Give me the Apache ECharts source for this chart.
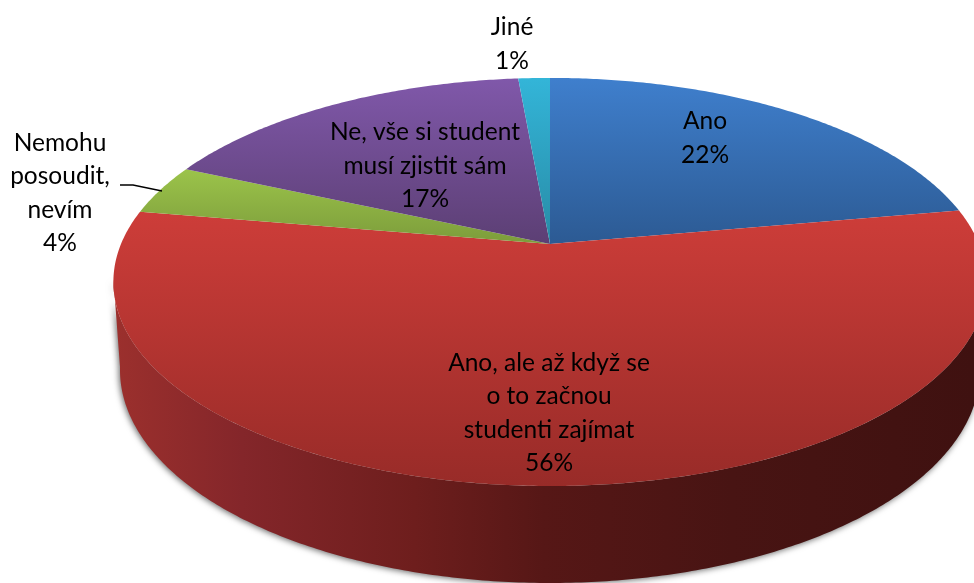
<!DOCTYPE html>
<html><head><meta charset="utf-8">
<style>html,body{margin:0;padding:0;background:#fff}#c{width:974px;height:583px}</style>
<script src="https://cdn.jsdelivr.net/npm/echarts@6/dist/echarts.min.js"></script>
</head><body><div id="c"></div>
<script>
// ---- data ----
const categories = ['Ano', 'Ano, ale až když se\no to začnou\nstudenti zajímat', 'Nemohu\nposoudit,\nnevím', 'Ne, vše si student\nmusí zjistit sám', 'Jiné'];
const values = [22.2, 55.5, 4.0, 16.9, 1.4];
const percentLabels = ['22%', '56%', '4%', '17%', '1%'];

// ---- presentation ----
const topColors = [['#3f7fcd', '#2c5a93'], ['#cd3d39', '#982b28'], ['#9bc34a', '#7c9c3b'], ['#8058aa', '#5c3f74'], ['#33b5d8', '#288ba6']];
const gradY = [[78, 244], [212, 486], [170, 244], [78, 244], [78, 244]];
const labelCentres = [[705, 138], [549, 413], [60, 193], [425, 166], [512, 44]];
const leader = [[120, 185], [133, 185], [162, 191]];
const disc = { x0: 550, y0: 244, A: 429, B: 197, k: 0.186 };
const lower = { x0: 550, A: 422.5, cy: 370, ry: 213, k: 0.186 };
const FONT = '24.5px Lato, "Open Sans", sans-serif';

function project(p, theta) {
  const w = 1 + p.k * Math.cos(theta);
  return [p.x0 + p.A * Math.sin(theta) / w, p.y0 - p.B * Math.cos(theta) / w];
}
lower.B = lower.ry * (1 - lower.k * lower.k);
lower.y0 = lower.cy - lower.B * lower.k / (1 - lower.k * lower.k);

const total = values.reduce((a, b) => a + b, 0);
function vgrad(i) {
  return { type: 'linear', global: true, x: 0, y: gradY[i][0], x2: 0, y2: gradY[i][1],
    colorStops: [{ offset: 0, color: topColors[i][0] }, { offset: 1, color: topColors[i][1] }] };
}
function rim(p, a, b) {
  const n = Math.max(4, Math.ceil(Math.abs(b - a) / 0.01)), pts = [];
  for (let j = 0; j <= n; j++) pts.push(project(p, a + (b - a) * j / n));
  return pts;
}
const sideFill = { type: 'linear', global: true, x: 113, y: 0, x2: 974, y2: 0, colorStops: [
  { offset: 0, color: '#9c302d' }, { offset: 0.15, color: '#84262a' }, { offset: 0.35, color: '#6e1e1d' },
  { offset: 0.5, color: '#561716' }, { offset: 0.72, color: '#481413' }, { offset: 1, color: '#3f1110' }] };

function renderItem(params, api) {
  const i = params.dataIndex;
  let before = 0;
  for (let j = 0; j < i; j++) before += values[j];
  const a = before / total * Math.PI * 2;
  const b = (before + api.value(0)) / total * Math.PI * 2;
  const children = [];
  if (i === 1) {
    // the outer wall: the only slice whose side faces the viewer
    const s = 100 * Math.PI / 180, e = 260 * Math.PI / 180;
    children.push({ type: 'polygon', shape: { points: rim(lower, s, e).concat(rim(disc, e, s)) },
      style: { fill: sideFill, shadowBlur: 6, shadowColor: 'rgba(0,0,0,0.6)', shadowOffsetY: 1, shadowOffsetX: -1 } });
  }
  children.push({ type: 'polygon', shape: { points: [[disc.x0, disc.y0]].concat(rim(disc, a, b)) }, style: { fill: vgrad(i) } });
  if (i === 2) {
    children.push({ type: 'polyline', shape: { points: leader }, style: { stroke: '#000', lineWidth: 1.3, fill: null }, z2: 20 });
  }
  children.push({ type: 'text', z2: 30, style: { x: labelCentres[i][0], y: labelCentres[i][1], text: categories[i] + '\n' + percentLabels[i],
    fill: '#000', font: FONT, align: 'center', verticalAlign: 'middle', lineHeight: 33.5 } });
  return { type: 'group', children };
}

const chart = echarts.init(document.getElementById('c'), null, { renderer: 'canvas' });
chart.setOption({
  animation: false,
  backgroundColor: '#fff',
  series: [{ type: 'custom', coordinateSystem: 'none', silent: true, renderItem,
    data: values.map((v, i) => ({ name: categories[i], value: [v] })) }]
});
</script></body></html>
